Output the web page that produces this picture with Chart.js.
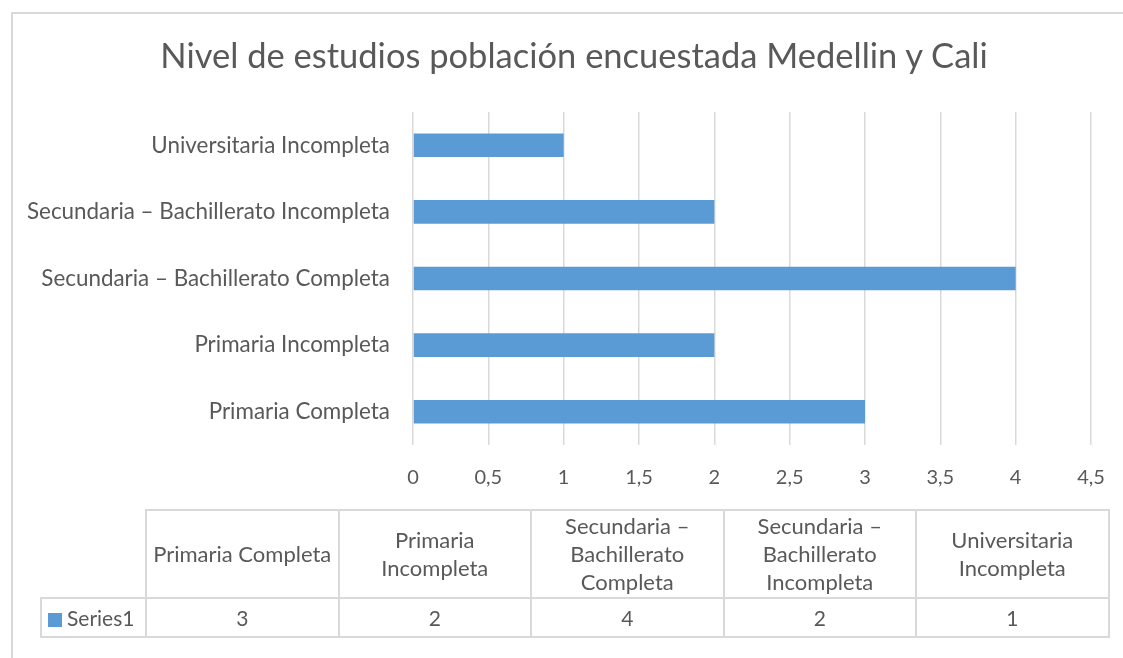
<!DOCTYPE html>
<html lang="es">
<head>
    <meta charset="UTF-8">
    <title>Nivel de estudios población encuestada Medellin y Cali</title>
    <script src="https://cdn.jsdelivr.net/npm/chart.js"></script>
    <style>
        body { margin: 0; background: #fff; font-family: Lato, "Open Sans", sans-serif; color: #595959; }
        .frame { position: absolute; left: 11px; top: 12px; width: 1130px; height: 660px; border: 2px solid #d9d9d9; box-sizing: border-box; }
        #chart { position: absolute; left: 0; top: 0; }
        .title { position: absolute; left: 0; width: 1148px; top: 34px; text-align: center; font-size: 34.5px; white-space: nowrap; }
        .data-table { position: absolute; left: 40px; top: 509px; border-collapse: collapse; table-layout: fixed; font-size: 22px; }
        .data-table td { border: 2px solid #d9d9d9; text-align: center; padding: 0 3px; line-height: 28px; }
        .data-table tr.head td { height: 86px; }
        .data-table tr.vals td { height: 37px; font-size: 21px; }
        .data-table td.empty { border-top: none; border-left: none; }
        .data-table td.legend { text-align: left; padding-left: 6px; white-space: nowrap; font-size: 22px; }
        .key { display: inline-block; width: 14px; height: 14px; vertical-align: -1px; margin-right: 5px; }
    </style>
</head>
<body>
    <div class="frame"></div>
    <canvas id="chart" width="1123" height="658"></canvas>
    <div class="title" id="title"></div>
    <table class="data-table" id="dataTable"></table>

    <script>
        // datos
        const chartTitle = 'Nivel de estudios población encuestada Medellin y Cali';
        const categorias = ['Primaria Completa', 'Primaria Incompleta', 'Secundaria – Bachillerato Completa',
                            'Secundaria – Bachillerato Incompleta', 'Universitaria Incompleta'];
        const serieNombre = 'Series1';
        const serieValores = [3, 2, 4, 2, 1];
        const ejeMax = 4.5;
        const ejePaso = 0.5;

        const azul = '#5b9bd5';
        const gris = '#595959';

        document.getElementById('title').textContent = chartTitle;

        // tabla de datos debajo del grafico
        let html = '<colgroup><col style="width:105px">' + categorias.map(() => '<col style="width:192.5px">').join('') + '</colgroup>';
        html += '<tr class="head"><td class="empty"></td>' + categorias.map(c => `<td>${c}</td>`).join('') + '</tr>';
        html += `<tr class="vals"><td class="legend"><span class="key" style="background:${azul}"></span>${serieNombre}</td>`
              + serieValores.map(v => `<td>${v}</td>`).join('') + '</tr>';
        document.getElementById('dataTable').innerHTML = html;

        const ctx = document.getElementById('chart').getContext('2d');
        new Chart(ctx, {
            type: 'bar',
            data: {
                labels: categorias,
                datasets: [{
                    label: serieNombre,
                    data: serieValores,
                    backgroundColor: azul,
                    barPercentage: 0.355,
                    categoryPercentage: 1
                }]
            },
            options: {
                indexAxis: 'y',
                responsive: false,
                animation: false,
                layout: { padding: { left: 0, top: 112, right: 32, bottom: 163 } },
                plugins: {
                    legend: { display: false },
                    tooltip: { enabled: false }
                },
                scales: {
                    x: {
                        min: 0,
                        max: ejeMax,
                        afterFit: s => { s.height = 50; s.paddingLeft = 0; s.paddingRight = 0; },
                        border: { display: false },
                        grid: { color: '#d9d9d9', lineWidth: 1.5, drawTicks: false },
                        ticks: {
                            stepSize: ejePaso,
                            padding: 21,
                            color: gris,
                            font: { family: 'Lato', size: 20 },
                            callback: v => String(v).replace('.', ',')
                        }
                    },
                    y: {
                        reverse: true,
                        afterFit: s => { s.width = 413; },
                        border: { display: false },
                        grid: { display: false, drawTicks: false },
                        ticks: {
                            padding: 23,
                            color: gris,
                            font: { family: 'Lato', size: 22.4 }
                        }
                    }
                }
            }
        });
    </script>
</body>
</html>
